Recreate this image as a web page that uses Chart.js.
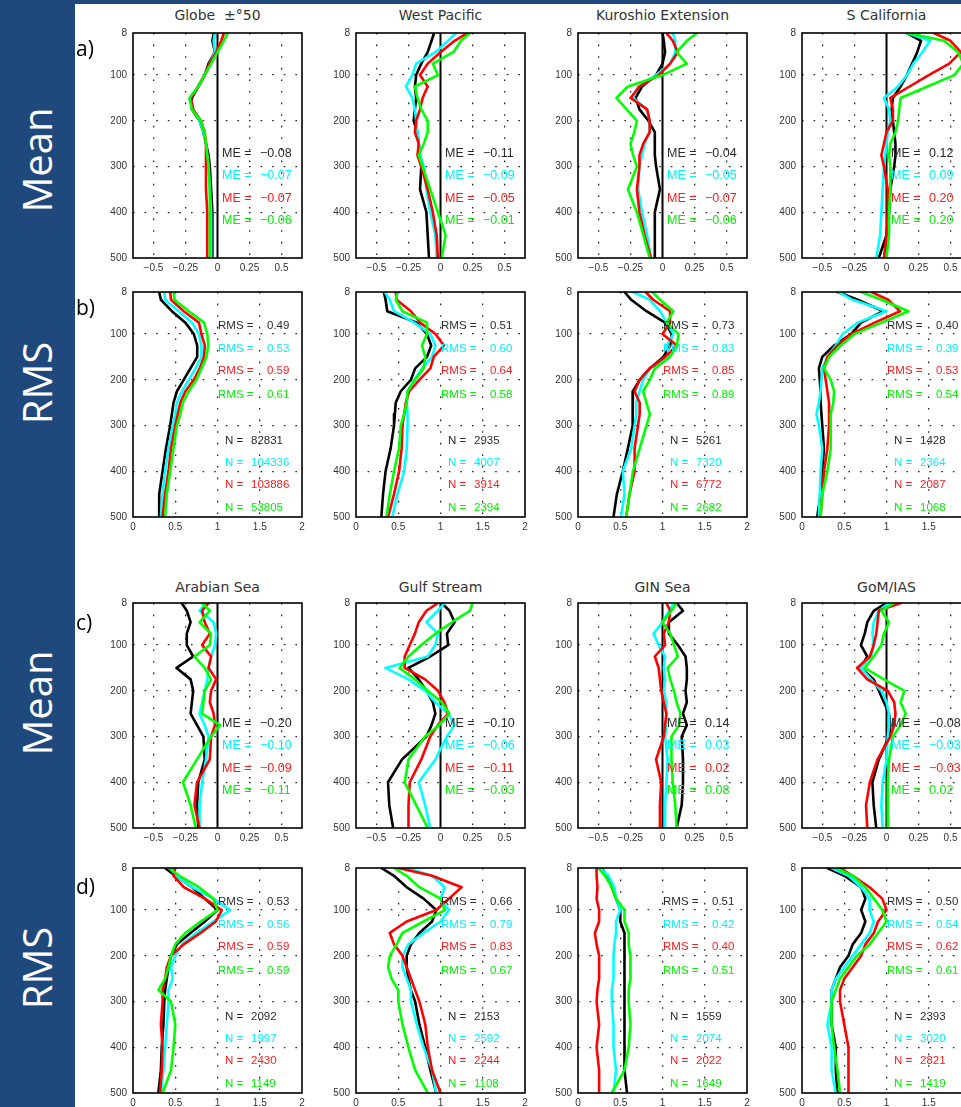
<!DOCTYPE html>
<html><head><meta charset="utf-8">
<script src="https://cdn.jsdelivr.net/npm/chart.js@4.4.1/dist/chart.umd.min.js"></script>
<style>
html,body{margin:0;padding:0;width:961px;height:1107px;overflow:hidden;background:#fff;position:relative;}
#side{position:absolute;left:0;top:0;width:75px;height:1107px;background:#1f497d;}
#topbar{position:absolute;left:0;top:0;width:961px;height:4px;background:#1f497d;}
.side-label{position:absolute;left:37px;color:#fff;font-family:'Open Sans',sans-serif;font-size:40px;transform:translate(-50%,-50%) rotate(-90deg);white-space:nowrap;line-height:1;}
.plabel{position:absolute;left:76px;font-family:'Open Sans',sans-serif;font-size:21px;color:#000;transform:translateY(-50%);line-height:1;z-index:3;}
.title{position:absolute;font-family:'DejaVu Sans',sans-serif;font-size:14px;color:#333;transform:translate(-50%,-50%);white-space:pre;line-height:1;}
canvas{position:absolute;}
</style></head>
<body>
<div id="side"></div><div id="topbar"></div>
<script>
// ---------------- data ----------------
const depths = [8,25,50,75,100,125,150,175,200,225,250,275,300,350,400,450,500];
const depthTicks = [8,100,200,300,400,500];
const depthTickLabels = ['8','100','200','300','400','500'];
const meanTicks = [-0.5,-0.25,0,0.25,0.5];
const meanTickLabels = ['\u22120.5','\u22120.25','0','0.25','0.5'];
const rmsTicks = [0,0.5,1,1.5,2];
const rmsTickLabels = ['0','0.5','1','1.5','2'];
const zeroLine = [0,0];
const topRegions = ['Globe  \u00b1\u00b050','West Pacific','Kuroshio Extension','S California'];
const bottomRegions = ['Arabian Sea','Gulf Stream','GIN Sea','GoM/IAS'];
const sideLabels = ['Mean','RMS','Mean','RMS'];
const panelLetters = ['a)','b)','c)','d)'];

// series order in each panel: black, cyan, red, green
const meanGlobe = [
  [-0.03,-0.04,-0.02,-0.07,-0.1,-0.15,-0.2,-0.2,-0.14,-0.11,-0.09,-0.07,-0.06,-0.05,-0.04,-0.04,-0.04],
  [-0.02,-0.03,-0.02,-0.06,-0.1,-0.15,-0.21,-0.19,-0.14,-0.11,-0.09,-0.08,-0.07,-0.06,-0.05,-0.05,-0.05],
  [0.05,0.03,-0.01,-0.06,-0.1,-0.15,-0.21,-0.19,-0.13,-0.1,-0.09,-0.09,-0.09,-0.09,-0.08,-0.08,-0.08],
  [0.08,0.05,0.0,-0.05,-0.1,-0.15,-0.22,-0.2,-0.13,-0.1,-0.09,-0.08,-0.07,-0.06,-0.06,-0.06,-0.06]];
const meanWestPacific = [
  [-0.05,-0.07,-0.1,-0.15,-0.19,-0.2,-0.19,-0.2,-0.21,-0.18,-0.17,-0.16,-0.15,-0.16,-0.11,-0.1,-0.09],
  [0.12,0.06,-0.04,-0.19,-0.22,-0.27,-0.22,-0.2,-0.19,-0.18,-0.17,-0.16,-0.13,-0.11,-0.08,-0.04,-0.03],
  [0.21,0.11,0.0,-0.1,-0.16,-0.1,-0.14,-0.16,-0.19,-0.2,-0.17,-0.18,-0.15,-0.1,-0.06,-0.03,-0.02],
  [0.23,0.16,0.1,-0.06,-0.02,-0.2,-0.18,-0.15,-0.1,-0.1,-0.13,-0.17,-0.14,-0.08,-0.02,0.04,0.01]];
const meanKuroshio = [
  [0.0,0.01,0.02,0.0,-0.05,-0.16,-0.21,-0.18,-0.11,-0.06,-0.06,-0.06,-0.05,-0.02,-0.06,-0.06,-0.06],
  [0.08,0.1,0.1,0.06,-0.05,-0.19,-0.23,-0.12,-0.1,-0.1,-0.14,-0.16,-0.18,-0.19,-0.16,-0.12,-0.09],
  [0.03,0.08,0.12,0.06,-0.03,-0.18,-0.25,-0.12,-0.1,-0.1,-0.15,-0.18,-0.18,-0.2,-0.18,-0.14,-0.09],
  [0.27,0.19,0.11,0.19,0.0,-0.27,-0.36,-0.28,-0.2,-0.22,-0.25,-0.23,-0.2,-0.27,-0.2,-0.15,-0.1]];
const meanSCalifornia = [
  [0.16,0.27,0.24,0.2,0.16,0.11,0.05,0.04,0.05,0.06,0.07,0.07,0.06,0.03,0.02,0.0,-0.06],
  [0.16,0.34,0.28,0.21,0.16,0.09,-0.02,0.02,0.03,0.01,0.0,-0.01,-0.02,-0.03,-0.04,-0.05,-0.08],
  [0.37,0.5,0.58,0.49,0.33,0.18,0.03,0.05,0.05,0.0,-0.02,-0.04,-0.02,0.01,0.01,0.0,-0.02],
  [0.16,0.45,0.56,0.6,0.53,0.32,0.11,0.1,0.09,0.07,0.03,0.02,0.03,0.03,0.02,0.02,0.0]];
const rmsGlobe = [
  [0.31,0.33,0.46,0.62,0.72,0.76,0.76,0.68,0.6,0.52,0.48,0.46,0.44,0.39,0.35,0.31,0.31],
  [0.37,0.38,0.54,0.7,0.78,0.81,0.81,0.74,0.66,0.58,0.52,0.5,0.47,0.42,0.38,0.35,0.33],
  [0.44,0.45,0.6,0.78,0.81,0.85,0.84,0.79,0.72,0.62,0.56,0.53,0.5,0.45,0.42,0.38,0.35],
  [0.48,0.49,0.66,0.84,0.88,0.89,0.87,0.81,0.75,0.66,0.59,0.56,0.52,0.48,0.44,0.4,0.38]];
const rmsWestPacific = [
  [0.33,0.35,0.37,0.72,0.84,0.89,0.84,0.7,0.65,0.53,0.47,0.46,0.45,0.41,0.35,0.32,0.3],
  [0.34,0.4,0.45,0.69,0.88,0.94,0.9,0.78,0.69,0.61,0.6,0.61,0.61,0.6,0.57,0.49,0.43],
  [0.47,0.48,0.65,0.76,0.94,1.04,0.92,0.88,0.75,0.63,0.59,0.57,0.55,0.54,0.51,0.45,0.38],
  [0.49,0.47,0.55,0.84,0.84,0.78,0.82,0.8,0.7,0.61,0.6,0.57,0.53,0.51,0.45,0.4,0.36]];
const rmsKuroshio = [
  [0.55,0.63,0.81,1.03,1.11,1.09,1.01,0.85,0.73,0.65,0.64,0.65,0.65,0.59,0.53,0.46,0.42],
  [0.65,0.85,0.97,1.05,1.13,1.05,1.08,0.85,0.77,0.73,0.69,0.69,0.67,0.63,0.53,0.55,0.51],
  [0.8,0.89,1.09,1.09,1.0,1.17,1.03,0.85,0.73,0.67,0.73,0.73,0.71,0.67,0.67,0.61,0.57],
  [0.88,0.97,1.13,1.05,1.19,1.17,1.09,0.91,0.85,0.77,0.81,0.85,0.81,0.73,0.65,0.61,0.57]];
const rmsSCalifornia = [
  [0.42,0.66,0.96,0.7,0.58,0.38,0.24,0.2,0.21,0.22,0.22,0.23,0.24,0.26,0.24,0.22,0.18],
  [0.43,0.6,1.0,0.66,0.48,0.4,0.3,0.24,0.23,0.22,0.2,0.17,0.2,0.24,0.22,0.21,0.2],
  [0.82,1.02,1.16,0.86,0.58,0.42,0.3,0.26,0.28,0.3,0.32,0.32,0.32,0.3,0.26,0.24,0.22],
  [0.7,0.94,1.26,0.94,0.62,0.46,0.32,0.26,0.34,0.38,0.37,0.34,0.34,0.34,0.3,0.24,0.22]];
const meanArabian = [
  [-0.28,-0.24,-0.21,-0.24,-0.24,-0.19,-0.32,-0.21,-0.19,-0.2,-0.21,-0.16,-0.11,-0.1,-0.15,-0.16,-0.15],
  [-0.09,-0.14,-0.03,-0.01,-0.02,-0.05,-0.07,-0.08,-0.1,-0.12,-0.14,-0.1,-0.07,-0.09,-0.12,-0.14,-0.14],
  [-0.07,-0.12,-0.1,-0.06,-0.12,-0.05,-0.07,-0.01,-0.05,-0.06,-0.03,-0.02,-0.05,-0.06,-0.16,-0.18,-0.14],
  [-0.12,-0.06,-0.14,-0.05,-0.06,-0.18,-0.1,-0.05,-0.1,-0.11,-0.12,0.02,-0.05,-0.16,-0.27,-0.21,-0.17]];
const meanGulfStream = [
  [0.01,0.07,0.11,0.05,0.06,-0.08,-0.25,-0.17,-0.11,-0.06,-0.04,-0.07,-0.11,-0.3,-0.41,-0.4,-0.37],
  [0.03,-0.02,-0.11,-0.02,-0.04,-0.1,-0.43,-0.25,-0.12,-0.04,0.06,0.11,0.05,-0.04,-0.17,-0.12,-0.08],
  [-0.02,-0.11,-0.17,-0.2,-0.24,-0.28,-0.28,-0.12,-0.02,0.03,0.06,-0.02,-0.08,-0.15,-0.24,-0.25,-0.25],
  [0.25,0.23,0.09,-0.04,-0.15,-0.25,-0.32,-0.2,-0.1,0.01,0.07,-0.01,-0.12,-0.25,-0.28,-0.19,-0.1]];
const meanGIN = [
  [0.11,0.16,0.05,0.05,0.12,0.18,0.19,0.19,0.18,0.19,0.16,0.19,0.15,0.16,0.16,0.15,0.11],
  [0.09,0.05,0.0,-0.07,-0.03,0.02,0.01,0.02,0.01,0.03,0.03,0.03,0.02,0.04,0.03,0.02,0.02],
  [0.03,0.06,0.05,0.01,0.02,-0.06,-0.03,-0.02,-0.01,0.01,0.03,0.02,0.01,-0.05,-0.01,-0.02,-0.02],
  [0.11,0.07,0.0,0.06,0.09,0.12,0.04,0.06,0.09,0.11,0.14,0.13,0.07,0.07,0.08,0.1,0.11]];
const meanGoM = [
  [0.0,-0.1,-0.15,-0.17,-0.2,-0.15,-0.2,-0.1,-0.06,-0.02,0.02,0.03,0.02,-0.06,-0.11,-0.1,-0.08],
  [0.02,-0.06,-0.1,-0.11,-0.1,-0.12,-0.2,-0.12,-0.04,0.0,0.02,0.02,0.01,0.0,-0.03,-0.04,-0.03],
  [0.11,-0.06,-0.07,-0.08,-0.1,-0.13,-0.23,-0.15,0.01,0.06,0.07,0.06,0.03,-0.07,-0.13,-0.16,-0.15],
  [0.06,-0.04,0.02,-0.02,-0.04,-0.1,-0.17,-0.02,0.14,0.11,0.15,0.11,0.05,0.02,0.01,0.01,0.01]];
const rmsArabian = [
  [0.38,0.5,0.7,0.85,1.0,0.85,0.68,0.52,0.45,0.42,0.4,0.38,0.37,0.36,0.34,0.33,0.3],
  [0.45,0.5,0.7,0.95,1.15,0.95,0.75,0.58,0.5,0.45,0.47,0.42,0.42,0.4,0.38,0.36,0.33],
  [0.5,0.48,0.6,0.85,1.05,0.98,0.8,0.6,0.45,0.4,0.38,0.35,0.35,0.33,0.35,0.34,0.32],
  [0.42,0.55,0.78,0.95,1.0,0.8,0.62,0.5,0.45,0.42,0.38,0.3,0.45,0.5,0.48,0.45,0.35]];
const rmsGulfStream = [
  [0.3,0.45,0.6,0.8,0.95,0.9,0.75,0.65,0.6,0.6,0.62,0.65,0.7,0.75,0.82,0.88,0.95],
  [0.6,0.9,1.05,1.0,1.1,1.0,0.8,0.62,0.55,0.55,0.6,0.65,0.65,0.72,0.8,0.9,0.95],
  [0.5,0.9,1.25,1.1,0.95,0.6,0.4,0.45,0.55,0.6,0.65,0.7,0.75,0.82,0.85,0.9,1.0],
  [0.45,0.6,0.75,1.0,1.05,0.8,0.55,0.48,0.4,0.38,0.42,0.5,0.5,0.55,0.62,0.7,0.85]];
const rmsGIN = [
  [0.28,0.34,0.4,0.45,0.5,0.5,0.55,0.55,0.55,0.55,0.55,0.55,0.55,0.55,0.55,0.55,0.58],
  [0.26,0.36,0.43,0.45,0.5,0.45,0.45,0.43,0.42,0.42,0.42,0.4,0.4,0.42,0.42,0.45,0.42],
  [0.22,0.22,0.23,0.22,0.25,0.25,0.2,0.22,0.25,0.25,0.25,0.23,0.22,0.25,0.22,0.25,0.25],
  [0.24,0.32,0.4,0.45,0.55,0.55,0.6,0.6,0.62,0.62,0.62,0.6,0.6,0.62,0.6,0.55,0.4]];
const rmsGoM = [
  [0.3,0.5,0.7,0.75,0.7,0.75,0.7,0.6,0.55,0.45,0.4,0.35,0.35,0.35,0.4,0.4,0.42],
  [0.35,0.55,0.7,0.8,0.8,0.85,0.8,0.7,0.6,0.5,0.4,0.35,0.35,0.3,0.35,0.35,0.4],
  [0.45,0.6,0.8,0.95,1.0,0.9,0.85,0.75,0.7,0.6,0.5,0.45,0.45,0.5,0.55,0.55,0.55],
  [0.4,0.6,0.75,0.85,0.95,1.0,0.9,0.8,0.65,0.55,0.45,0.4,0.35,0.35,0.38,0.42,0.45]];

// statistics printed in the panels (black, cyan, red, green)
const meTop = [[-0.08,-0.07,-0.07,-0.06],[-0.11,-0.09,-0.05,-0.01],[-0.04,-0.05,-0.07,-0.06],[0.12,0.09,0.20,0.20]];
const meBottom = [[-0.20,-0.10,-0.09,-0.11],[-0.10,-0.06,-0.11,-0.03],[0.14,0.03,0.02,0.08],[-0.08,-0.03,-0.03,0.02]];
const rmsTop = [[0.49,0.53,0.59,0.61],[0.51,0.60,0.64,0.58],[0.73,0.83,0.85,0.89],[0.40,0.39,0.53,0.54]];
const rmsBottom = [[0.53,0.56,0.59,0.59],[0.66,0.79,0.83,0.67],[0.51,0.42,0.40,0.51],[0.50,0.54,0.62,0.61]];
const nTop = [[82831,104336,103886,53805],[2935,4007,3914,2394],[5261,7320,6772,2682],[1428,2364,2087,1068]];
const nBottom = [[2092,1997,2430,1149],[2153,2592,2244,1108],[1559,2074,2022,1649],[2393,3020,2821,1419]];
const meLabel = 'ME =', rmsLabel = 'RMS =', nLabel = 'N =';

// ---------------- style / layout ----------------
const lineColors = ['#000000','#00ffff','#ff0000','#00ff00'];
const textColors = ['#2b2b2b','#00f0ff','#ff1a1a','#00ee00'];
const colLefts = [133, 356, 578, 802];
const rowTops = [33, 292, 603, 868];
const PW = 169, PH = 225, AXW = 40, PADT = 10, PADR = 10, AXH = 22;

function fmt(v){ return v.toFixed(2).replace('-', '\u2212'); }

function addDiv(cls, text, left, top){
  const d = document.createElement('div');
  d.className = cls; d.textContent = text;
  if (left !== null) d.style.left = left + 'px';
  d.style.top = top + 'px';
  document.body.appendChild(d);
}

const boxPlugin = {
  id: 'box',
  afterDatasetsDraw(chart){
    const {ctx, chartArea: a} = chart;
    ctx.save(); ctx.strokeStyle = '#000'; ctx.lineWidth = 1.6;
    ctx.strokeRect(a.left, a.top, a.right - a.left, a.bottom - a.top);
    ctx.restore();
  }
};

function annotPlugin(groups){
  return {
    id: 'annot',
    afterDraw(chart){
      const {ctx, chartArea: a} = chart;
      ctx.save(); ctx.textBaseline = 'middle'; ctx.textAlign = 'left';
      groups.forEach(g => {
        ctx.font = g.size + 'px "Liberation Sans", Arial, sans-serif';
        g.values.forEach((v, i) => {
          ctx.fillStyle = textColors[i];
          ctx.fillText(g.label, a.left + g.dxL, a.top + g.dys[i]);
          ctx.fillText(g.fmt(v), a.left + g.dxV, a.top + g.dys[i]);
        });
      });
      ctx.restore();
    }
  };
}

function makePanel(col, row, kind, profiles, groups){
  const isMean = kind === 'mean';
  const cv = document.createElement('canvas');
  const L = colLefts[col] - AXW, T = rowTops[row] - PADT, W = AXW + PW + PADR, H = PADT + PH + AXH;
  cv.width = W; cv.height = H;
  cv.style.left = L + 'px'; cv.style.top = T + 'px';
  cv.style.width = W + 'px'; cv.style.height = H + 'px';
  document.body.appendChild(cv);

  const datasets = profiles.map((vals, i) => ({
    data: vals.map((v, j) => ({x: v, y: depths[j]})),
    borderColor: lineColors[i], borderWidth: 2.6, pointRadius: 0, tension: 0,
    fill: false, order: 3 - i, borderJoinStyle: 'round', borderCapStyle: 'round'
  }));
  if (isMean) {
    datasets.push({
      data: zeroLine.map((v, j) => ({x: v, y: [depthTicks[0], depthTicks[depthTicks.length-1]][j]})),
      borderColor: '#000', borderWidth: 2, pointRadius: 0, order: 5, fill: false
    });
  }
  const xTicks = isMean ? meanTicks : rmsTicks;
  const xLabels = isMean ? meanTickLabels : rmsTickLabels;
  const xEdges = isMean ? [0] : [0, 2];
  const tickFont = {family: '"Liberation Sans", Arial, sans-serif', size: 10};

  new Chart(cv, {
    type: 'line',
    data: {datasets},
    options: {
      responsive: false, animation: false, devicePixelRatio: 1,
      layout: {padding: {top: PADT, right: PADR, left: 0, bottom: 0}},
      plugins: {legend: {display: false}, tooltip: {enabled: false}, title: {display: false}},
      scales: {
        x: {
          type: 'linear', min: isMean ? -0.66 : 0, max: isMean ? 0.66 : 2,
          afterBuildTicks: s => { s.ticks = xTicks.map(v => ({value: v})); },
          afterFit: s => { s.height = AXH; s.paddingLeft = 0; s.paddingRight = 0; },
          ticks: {autoSkip: false, maxRotation: 0, minRotation: 0, padding: 4, color: '#333', font: tickFont,
                  callback: (v, i) => xLabels[i]},
          grid: {drawTicks: false, lineWidth: 1.3,
                 color: c => (c.tick && !xEdges.includes(c.tick.value)) ? '#222' : 'rgba(0,0,0,0)'},
          border: {display: false, dash: [1.6, 10]}
        },
        y: {
          type: 'linear', reverse: true, min: 8, max: 500,
          afterBuildTicks: s => { s.ticks = depthTicks.map(v => ({value: v})); },
          afterFit: s => { s.width = AXW; s.paddingTop = 0; s.paddingBottom = 0; },
          ticks: {autoSkip: false, padding: 6, color: '#333', font: tickFont,
                  callback: (v, i) => depthTickLabels[i]},
          grid: {drawTicks: false, lineWidth: 1.3,
                 color: c => (c.tick && c.tick.value !== 8 && c.tick.value !== 500) ? '#222' : 'rgba(0,0,0,0)'},
          border: {display: false, dash: [1.6, 10]}
        }
      }
    },
    plugins: [boxPlugin, annotPlugin(groups)]
  });
}

function meGroup(vals){ return [{label: meLabel, values: vals, fmt: fmt, dxL: 89, dxV: 127, dys: [121,143,166,188], size: 12.5}]; }
function rmsGroups(r, n){ return [
  {label: rmsLabel, values: r, fmt: fmt, dxL: 85, dxV: 134, dys: [34,57,79,103], size: 11.5},
  {label: nLabel, values: n, fmt: v => String(v), dxL: 92, dxV: 118, dys: [149,171,193,216], size: 11.5}]; }

// side labels and panel letters
const sideCenters = [160, 383, 703, 968];
sideLabels.forEach((t, i) => addDiv('side-label', t, null, sideCenters[i]));
const letterCenters = [48, 307, 622, 886];
panelLetters.forEach((t, i) => addDiv('plabel', t, null, letterCenters[i]));
topRegions.forEach((t, i) => addDiv('title', t, colLefts[i] + PW/2, 15));
bottomRegions.forEach((t, i) => addDiv('title', t, colLefts[i] + PW/2, 587));

const meanTopProfiles = [meanGlobe, meanWestPacific, meanKuroshio, meanSCalifornia];
const rmsTopProfiles = [rmsGlobe, rmsWestPacific, rmsKuroshio, rmsSCalifornia];
const meanBottomProfiles = [meanArabian, meanGulfStream, meanGIN, meanGoM];
const rmsBottomProfiles = [rmsArabian, rmsGulfStream, rmsGIN, rmsGoM];

for (let c = 0; c < 4; c++) {
  makePanel(c, 0, 'mean', meanTopProfiles[c], meGroup(meTop[c]));
  makePanel(c, 1, 'rms', rmsTopProfiles[c], rmsGroups(rmsTop[c], nTop[c]));
  makePanel(c, 2, 'mean', meanBottomProfiles[c], meGroup(meBottom[c]));
  makePanel(c, 3, 'rms', rmsBottomProfiles[c], rmsGroups(rmsBottom[c], nBottom[c]));
}
</script>
</body></html>
